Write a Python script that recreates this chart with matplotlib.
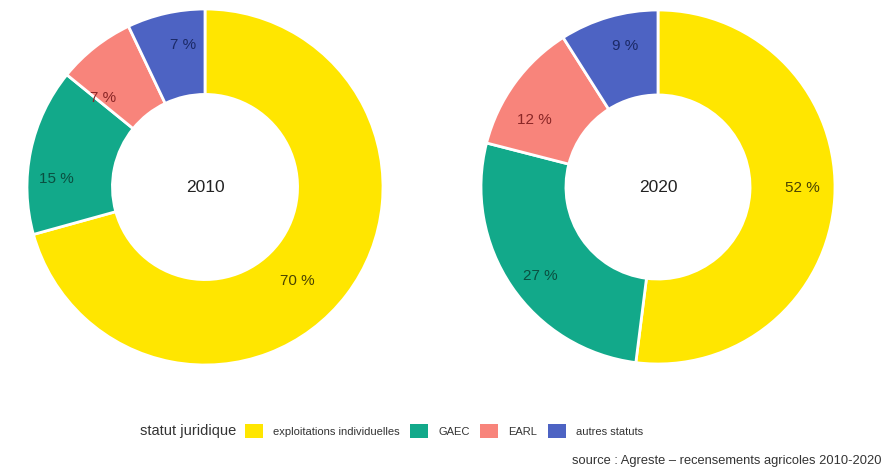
import numpy as np
import matplotlib
matplotlib.use("Agg")
import matplotlib.pyplot as plt
from matplotlib.patches import Patch

plt.rcParams['font.family'] = ['Liberation Sans', 'DejaVu Sans']

categories = ["exploitations individuelles", "GAEC", "EARL", "autres statuts"]
years = ["2010", "2020"]
values_2010 = [70, 15, 7, 7]
values_2020 = [52, 27, 12, 9]
legend_title = "statut juridique"
source_text = "source : Agreste – recensements agricoles 2010-2020"

colors = ["#FFE600", "#12A98A", "#F8847B", "#4D63C3"]
label_colors = ["#4a4300", "#0a4f40", "#8a2626", "#1b2966"]

# label nudges in pixels (layout only)
nudges_2010 = [(-20, 9), (-11, 21), (-15, 22), (9, -5)]
nudges_2020 = [(5, -8), (-2, 10), (-11, 15), (6, -7)]

W, H = 895, 470
fig = plt.figure(figsize=(W / 100, H / 100), dpi=100)

def add_donut(cx, cy, r, vals, year, nudges):
    ax = fig.add_axes([(cx - r) / W, 1 - (cy + r) / H, 2 * r / W, 2 * r / H])
    wedges, _ = ax.pie(vals, colors=colors, startangle=90, counterclock=False,
                       radius=1.0,
                       wedgeprops=dict(width=0.48, edgecolor="white", linewidth=2))
    for w, v, lc, (nx, ny) in zip(wedges, vals, label_colors, nudges):
        ang = np.deg2rad((w.theta1 + w.theta2) / 2)
        ax.text(0.79 * np.cos(ang) + nx / r, 0.79 * np.sin(ang) - ny / r, f"{v} %",
                ha="center", va="center", fontsize=11, color=lc)
    ax.text(0, 0, year, ha="center", va="center", fontsize=12.5, color="#222222")
    ax.set_xlim(-1, 1)
    ax.set_ylim(-1, 1)
    ax.set_aspect("equal")
    ax.axis("off")

add_donut(205, 187, 178, values_2010, years[0], nudges_2010)
add_donut(658, 187, 177, values_2020, years[1], nudges_2020)

handles = [Patch(facecolor=c, edgecolor="none") for c in colors]
fs = 8
px = fs * 100 / 72
fig.legend(handles, categories, loc="center left",
           bbox_to_anchor=(245 / W, 1 - 431 / H), ncol=4, frameon=False,
           fontsize=fs, handlelength=18 / px, handleheight=18 / px,
           handletextpad=10 / px, columnspacing=10.5 / px,
           borderpad=0, borderaxespad=0, labelcolor="#333333")
fig.text(140 / W, 1 - 431 / H, legend_title, ha="left", va="center",
         fontsize=10.5, color="#333333")
fig.text(882 / W, 1 - 461 / H, source_text, ha="right", va="center",
         fontsize=9.3, color="#333333")

fig.savefig("out.png", dpi=100, facecolor="white")
